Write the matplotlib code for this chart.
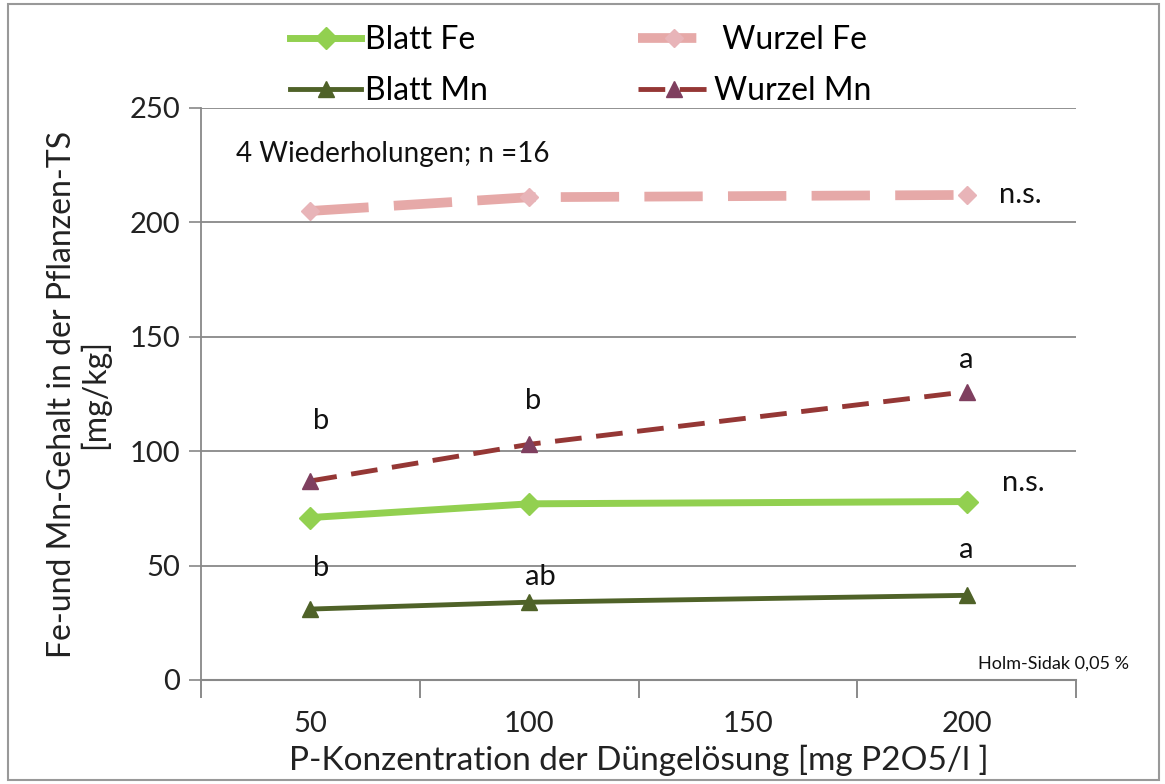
import matplotlib.pyplot as plt
from matplotlib.patches import Rectangle

plt.rcParams['font.family'] = ['Lato', 'DejaVu Sans']

x_vals = [50, 100, 200]
blatt_fe = [71, 77, 78]
wurzel_fe = [205, 211, 212]
blatt_mn = [31, 34, 37]
wurzel_mn = [87, 103, 126]

x_tick_labels = [50, 100, 150, 200]
y_ticks = [0, 50, 100, 150, 200, 250]

fig = plt.figure(figsize=(11.65, 7.84), dpi=100)
ax = fig.add_axes([201 / 1165, 1 - 680 / 784, (1076 - 201) / 1165, (680 - 108) / 784])

ax.plot(x_vals, blatt_fe, color='#92d050', lw=5, marker='D',
        ms=11, mfc='#92d050', mec='#92d050', label='Blatt Fe', zorder=3)
ax.plot(x_vals, blatt_mn, color='#4f6228', lw=3.5, marker='^',
        ms=11, mfc='#4f6228', mec='#4f6228', label='Blatt Mn', zorder=3)
ax.plot(x_vals, wurzel_fe, color='#e6a9a8', lw=7, dashes=(6, 2.6), marker='D',
        ms=9, mfc='#e8b4b8', mec='#e8b4b8', label=' Wurzel Fe', zorder=3)
ax.plot(x_vals, wurzel_mn, color='#953735', lw=3.5, dashes=(5.5, 3), marker='^',
        ms=11, mfc='#7f3f5f', mec='#7f3f5f', label='Wurzel Mn', zorder=3)

ax.set_xlim(25, 225)
ax.set_ylim(0, 250)
ax.set_yticks(y_ticks)
ax.set_xticks(x_tick_labels)
ax.set_xticks([25, 75, 125, 175, 225], minor=True)
ax.tick_params(axis='x', which='major', length=0, labelsize=21, pad=22, colors='#222222')
ax.tick_params(axis='x', which='minor', length=13, width=1.2, color='#777777', direction='out')
ax.tick_params(axis='y', length=9, width=1.2, color='#888888', labelsize=21, pad=6,
               labelcolor='#222222')
ax.grid(axis='y', color='#888888', lw=1.3)
ax.set_axisbelow(True)
for s in ['top', 'right']:
    ax.spines[s].set_visible(False)
ax.spines['left'].set_color('#888888')
ax.spines['bottom'].set_color('#888888')
ax.spines['left'].set_linewidth(1.3)
ax.spines['bottom'].set_linewidth(1.5)

ax.set_xlabel('P-Konzentration der Düngelösung [mg P2O5/l ]', fontsize=24,
              color='#222222', labelpad=6)
ax.set_ylabel('Fe-und Mn-Gehalt in der Pflanzen-TS\n[mg/kg]', fontsize=23,
              color='#222222', labelpad=14, linespacing=1.05)

# significance letters
txt = dict(fontsize=21, color='#111111', ha='center', va='center')
ax.text(207.5, 212, 'n.s.', ha='left', va='center', fontsize=21, color='#111111')
ax.text(200, 140, 'a', **txt)
ax.text(52.5, 113, 'b', **txt)
ax.text(101, 122, 'b', **txt)
ax.text(213, 86, 'n.s.', ha='center', va='center', fontsize=21, color='#111111')
ax.text(52.5, 49, 'b', **txt)
ax.text(102.5, 45, 'ab', **txt)
ax.text(200, 57, 'a', **txt)
ax.text(33, 230, '4 Wiederholungen; n =16', fontsize=20, color='#111111', va='center')
ax.text(237, 7, 'Holm-Sidak 0,05 %', fontsize=13, color='#111111', ha='right',
        va='center', clip_on=False)

fig.legend(ncol=2, loc='upper left', bbox_to_anchor=(268 / 1165, 1 - 3 / 784),
           frameon=False, fontsize=23, handlelength=2.2, handletextpad=0.15,
           columnspacing=4.7, labelspacing=0.65, borderpad=0.2)

fig.patches.append(Rectangle((8 / 1165, 4 / 784), 1 - 14 / 1165, 1 - 8 / 784,
                             transform=fig.transFigure, fill=False,
                             edgecolor='#999999', lw=1.5))

fig.savefig('out.png', dpi=100)
